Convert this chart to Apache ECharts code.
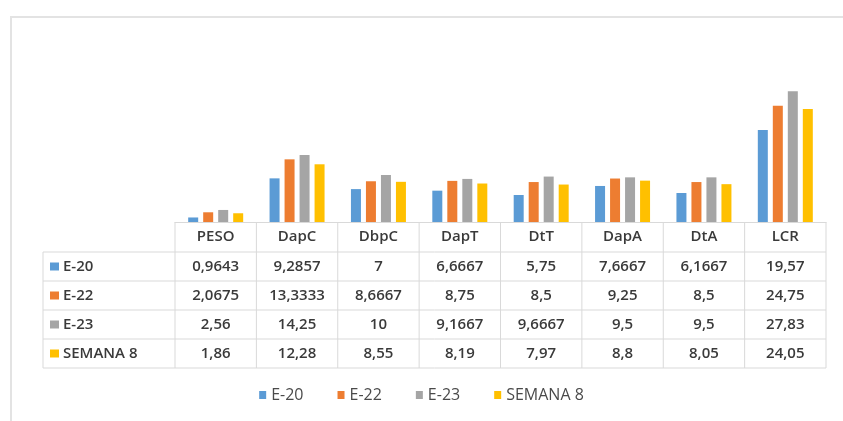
<!DOCTYPE html>
<html>
<head>
<meta charset="utf-8">
<script src="https://cdn.jsdelivr.net/npm/echarts@6/dist/echarts.min.js"></script>
<style>
  html, body { margin: 0; padding: 0; background: #fff; }
  #chart { width: 843px; height: 421px; }
</style>
</head>
<body>
<div id="chart"></div>
<script>
// categories and series
const categories = ['PESO', 'DapC', 'DbpC', 'DapT', 'DtT', 'DapA', 'DtA', 'LCR'];
const seriesNames = ['E-20', 'E-22', 'E-23', 'SEMANA 8'];
const e20 = [0.9643, 9.2857, 7, 6.6667, 5.75, 7.6667, 6.1667, 19.57];
const e22 = [2.0675, 13.3333, 8.6667, 8.75, 8.5, 9.25, 8.5, 24.75];
const e23 = [2.56, 14.25, 10, 9.1667, 9.6667, 9.5, 9.5, 27.83];
const semana8 = [1.86, 12.28, 8.55, 8.19, 7.97, 8.8, 8.05, 24.05];
const colors = ['#5B9BD5', '#ED7D31', '#A5A5A5', '#FFC000'];

const allValues = [e20, e22, e23, semana8];
const fontFam = '"Open Sans", "Liberation Sans", sans-serif';

// number format like the table (comma decimal)
const fmt = v => String(v).replace('.', ',');

const chart = echarts.init(document.getElementById('chart'));

const option = {
    animation: false,
    color: colors,
    grid: { left: 175, right: 17, top: 81, bottom: 199 },
    legend: {
        data: seriesNames,
        bottom: 13,
        left: 'center',
        icon: 'rect',
        itemWidth: 7,
        itemHeight: 8,
        itemGap: 34,
        textStyle: { color: '#4a4a4a', fontSize: 16, fontFamily: fontFam }
    },
    xAxis: {
        type: 'category',
        data: categories,
        axisLine: { lineStyle: { color: '#d9d9d9', width: 1 } },
        axisTick: { show: false },
        axisLabel: { show: false }
    },
    yAxis: {
        type: 'value',
        min: 0,
        max: 30,
        show: false
    },
    series: allValues.map((vals, i) => ({
        name: seriesNames[i],
        type: 'bar',
        data: vals,
        barWidth: 10,
        barGap: '50%'
    }))
};
chart.setOption(option);

// build the data table under the axis from the category positions
function buildTable() {
    const els = [];
    const colW = chart.convertToPixel({ xAxisIndex: 0 }, categories[1]) - chart.convertToPixel({ xAxisIndex: 0 }, categories[0]);
    const x0 = chart.convertToPixel({ xAxisIndex: 0 }, categories[0]) - colW / 2;
    const xEnd = x0 + colW * categories.length;
    const yTop = chart.convertToPixel({ yAxisIndex: 0 }, 0);
    const headH = 30;
    const rowH = 29;
    const labelX = 43;
    const line = { stroke: '#d9d9d9', lineWidth: 1 };
    const txt = { fill: '#3a3a3a', font: '600 15px ' + fontFam, textAlign: 'center', textVerticalAlign: 'middle' };

    // outer frame of chart area
    els.push({ type: 'rect', shape: { x: 11, y: 17, width: 900, height: 420 }, style: { fill: 'none', stroke: '#e3e3e3', lineWidth: 2 }, silent: true });

    // header verticals and text
    for (let c = 0; c <= categories.length; c++) {
        const x = x0 + c * colW;
        els.push({ type: 'line', shape: { x1: x, y1: yTop, x2: x, y2: yTop + headH + rowH * 4 }, style: line });
    }
    categories.forEach((cat, c) => {
        els.push({ type: 'text', style: Object.assign({ text: cat, x: x0 + (c + 0.5) * colW, y: yTop + headH / 2 }, txt) });
    });
    // row horizontals
    for (let r = 0; r <= 4; r++) {
        const y = yTop + headH + r * rowH;
        els.push({ type: 'line', shape: { x1: labelX, y1: y, x2: xEnd, y2: y }, style: line });
    }
    els.push({ type: 'line', shape: { x1: labelX, y1: yTop + headH, x2: labelX, y2: yTop + headH + rowH * 4 }, style: line });

    // rows
    allValues.forEach((vals, r) => {
        const yc = yTop + headH + (r + 0.5) * rowH;
        els.push({ type: 'rect', shape: { x: 50, y: yc - 4, width: 9, height: 8 }, style: { fill: colors[r] } });
        els.push({ type: 'text', style: Object.assign({}, txt, { text: seriesNames[r], x: 63, y: yc, textAlign: 'left' }) });
        vals.forEach((v, c) => {
            els.push({ type: 'text', style: Object.assign({ text: fmt(v), x: x0 + (c + 0.5) * colW, y: yc }, txt) });
        });
    });
    chart.setOption({ graphic: { elements: els } });
}
buildTable();
</script>
</body>
</html>
